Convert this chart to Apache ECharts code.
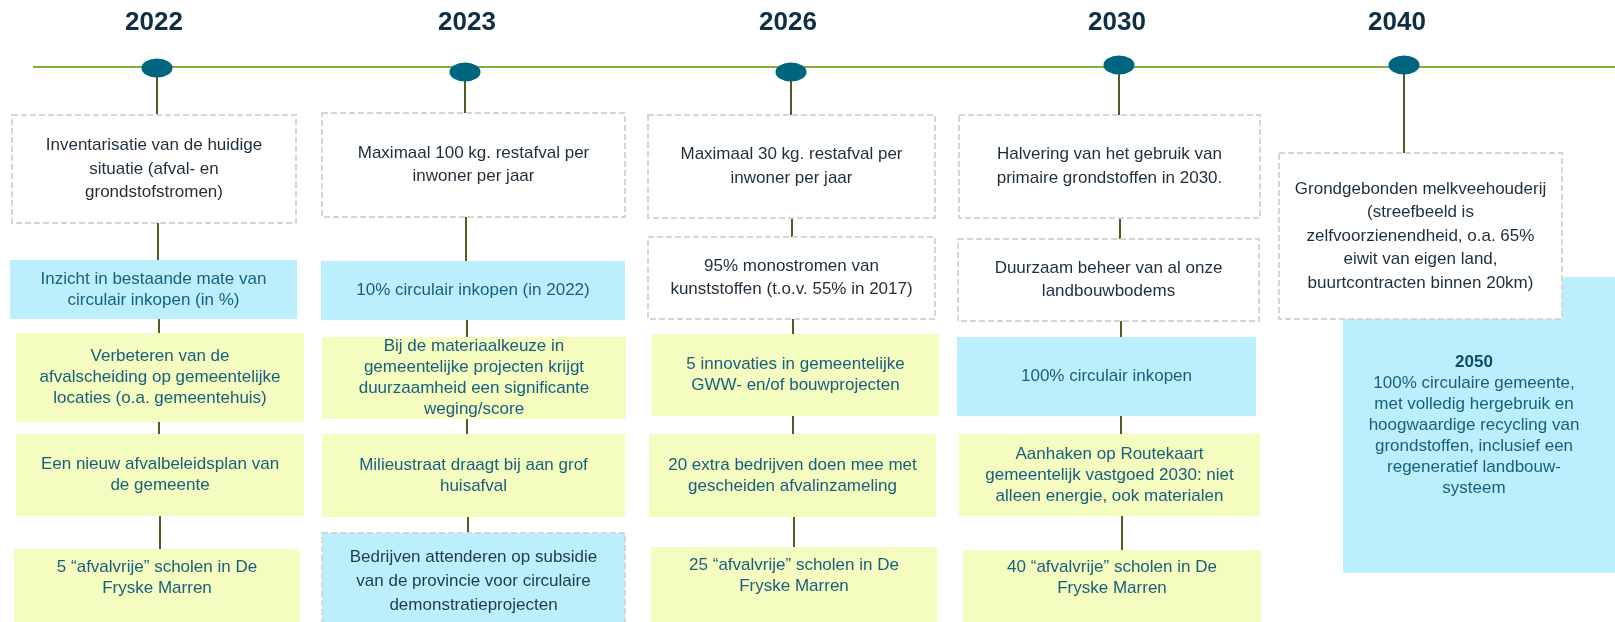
<!DOCTYPE html>
<html>
<head>
<meta charset="utf-8">
<title>Routekaart circulaire economie</title>
<script src="https://cdn.jsdelivr.net/npm/echarts@6/dist/echarts.min.js"></script>
<style>
    html, body { margin: 0; padding: 0; background: #fff; }
    #main { width: 1615px; height: 622px; }
</style>
</head>
<body>
<div id="main"></div>
<script>
// ---- data ----
var years = ['2022', '2023', '2026', '2030', '2040'];

var texts2022 = [
    'Inventarisatie van de huidige\nsituatie (afval- en\ngrondstofstromen)',
    'Inzicht in bestaande mate van\ncirculair inkopen (in %)',
    'Verbeteren van de\nafvalscheiding op gemeentelijke\nlocaties (o.a. gemeentehuis)',
    'Een nieuw afvalbeleidsplan van\nde gemeente',
    '5 \u201cafvalvrije\u201d scholen in De\nFryske Marren'
];
var kinds2022 = ['doel', 'inkoop', 'actie', 'actie', 'actie'];

var texts2023 = [
    'Maximaal 100 kg. restafval per\ninwoner per jaar',
    '10% circulair inkopen (in 2022)',
    'Bij de materiaalkeuze in\ngemeentelijke projecten krijgt\nduurzaamheid een significante\nweging/score',
    'Milieustraat draagt bij aan grof\nhuisafval',
    'Bedrijven attenderen op subsidie\nvan de provincie voor circulaire\ndemonstratieprojecten'
];
var kinds2023 = ['doel', 'inkoop', 'actie', 'actie', 'subsidie'];

var texts2026 = [
    'Maximaal 30 kg. restafval per\ninwoner per jaar',
    '95% monostromen van\nkunststoffen (t.o.v. 55% in 2017)',
    '5 innovaties in gemeentelijke\nGWW- en/of bouwprojecten',
    '20 extra bedrijven doen mee met\ngescheiden afvalinzameling',
    '25 \u201cafvalvrije\u201d scholen in De\nFryske Marren'
];
var kinds2026 = ['doel', 'doel', 'actie', 'actie', 'actie'];

var texts2030 = [
    'Halvering van het gebruik van\nprimaire grondstoffen in 2030.',
    'Duurzaam beheer van al onze\nlandbouwbodems',
    '100% circulair inkopen',
    'Aanhaken op Routekaart\ngemeentelijk vastgoed 2030: niet\nalleen energie, ook materialen',
    '40 \u201cafvalvrije\u201d scholen in De\nFryske Marren'
];
var kinds2030 = ['doel', 'doel', 'inkoop', 'actie', 'actie'];

var texts2040 = [
    'Grondgebonden melkveehouderij\n(streefbeeld is\nzelfvoorzienendheid, o.a. 65%\neiwit van eigen land,\nbuurtcontracten binnen 20km)'
];
var kinds2040 = ['doel'];

var vision2050 = '2050';
var visionText = '100% circulaire gemeente,\nmet volledig hergebruik en\nhoogwaardige recycling van\ngrondstoffen, inclusief een\nregeneratief landbouw-\nsysteem';

// ---- layout (pixel space of the hidden axes) ----
var yearLabelX = [154, 467, 788, 1117, 1397];
var yearLabelY = 23;
var dotX = [157, 465, 791, 1119, 1404];
var dotY = [68, 72, 72, 65, 65];
var lineY = 67;

// [x0, x1, y0, y1, textX, textY]
var pos2022 = [[12, 296, 115, 223], [10, 297, 260, 319], [16, 304, 333, 422], [16, 304, 434, 516], [14, 300, 549, 640, null, 578]];
var pos2023 = [[322, 625, 113, 217], [321, 625, 261, 320], [322, 626, 337, 419], [322, 625, 434, 517], [322, 625, 533, 640, null, 581]];
var pos2026 = [[648, 935, 115, 218], [648, 935, 237, 319], [652, 939, 334, 416], [649, 936, 434, 517], [651, 937, 547, 640, null, 576]];
var pos2030 = [[959, 1260, 115, 218], [958, 1259, 239, 321], [957, 1256, 337, 416], [959, 1260, 434, 516], [963, 1261, 550, 640, null, 578]];
var pos2040 = [[1279, 1562, 153, 319]];
var pos2050 = [1343, 1640, 277, 573, 1474, null];

var FONT = '"Liberation Sans", Arial, Helvetica, sans-serif';

var boxStyle = {
    doel: { fill: '#ffffff', stroke: '#d6d6d6', dash: [6, 3], color: '#1f2e3b', lh: 23.5 },
    inkoop: { fill: '#bbeffd', stroke: null, color: '#195f7d', lh: 21 },
    actie: { fill: '#f4fcc0', stroke: null, color: '#195f7d', lh: 21 },
    subsidie: { fill: '#bbeffd', stroke: '#d6d6d6', dash: [6, 3], color: '#1d3b50', lh: 24 },
    visie: { fill: '#bbeffd', stroke: null, color: '#195f7d', lh: 21 }
};

var chartDom = document.getElementById('main');
var myChart = echarts.init(chartDom);

var columns = [
    { texts: texts2022, kinds: kinds2022, pos: pos2022 },
    { texts: texts2023, kinds: kinds2023, pos: pos2023 },
    { texts: texts2026, kinds: kinds2026, pos: pos2026 },
    { texts: texts2030, kinds: kinds2030, pos: pos2030 },
    { texts: texts2040, kinds: kinds2040, pos: pos2040 }
];

var boxes = [];
var connectors = [];

function buildItems() {
    // 2050 box first so the 2040 box is drawn on top of it
    boxes.push({ kind: 'visie', text: '{b|' + vision2050 + '}\n' + visionText, p: pos2050 });

    columns.forEach(function (col, c) {
        var prevY = dotY[c];
        col.texts.forEach(function (t, i) {
            var p = col.pos[i];
            boxes.push({ kind: col.kinds[i], text: t, p: p });
            connectors.push([Math.round(dotX[c] + i * 0.75), prevY, p[2]]);
            prevY = p[3];
        });
    });
}

function renderBox(params, api) {
    var b = boxes[params.dataIndex];
    var st = boxStyle[b.kind];
    var p0 = api.coord([api.value(0), api.value(2)]);
    var p1 = api.coord([api.value(1), api.value(3)]);
    var tx = b.p[4] != null ? api.coord([b.p[4], 0])[0] : (p0[0] + p1[0]) / 2;
    var ty = b.p[5] != null ? api.coord([0, b.p[5]])[1] : (p0[1] + p1[1]) / 2;
    return {
        type: 'group',
        children: [{
            type: 'rect',
            shape: { x: p0[0], y: p0[1], width: p1[0] - p0[0], height: p1[1] - p0[1] },
            style: {
                fill: st.fill,
                stroke: st.stroke || null,
                lineWidth: st.stroke ? 2 : 0,
                lineDash: st.dash || null
            }
        }, {
            type: 'text',
            x: tx,
            y: ty,
            style: {
                text: b.text,
                fill: st.color,
                fontSize: 17,
                fontFamily: FONT,
                lineHeight: st.lh,
                align: 'center',
                verticalAlign: 'middle',
                rich: {
                    b: { fontSize: 17, fontWeight: 'bold', fontFamily: FONT, fill: '#0f4c69', lineHeight: 21 }
                }
            }
        }]
    };
}

function renderConnector(params, api) {
    var a = api.coord([api.value(0), api.value(1)]);
    var b = api.coord([api.value(0), api.value(2)]);
    return {
        type: 'line',
        shape: { x1: a[0], y1: a[1], x2: b[0], y2: b[1] },
        style: { stroke: '#4f5e1e', lineWidth: 2 }
    };
}

function renderYear(params, api) {
    var p = api.coord([api.value(0), api.value(1)]);
    return {
        type: 'text',
        x: p[0],
        y: p[1],
        style: {
            text: years[params.dataIndex],
            fill: '#0f2f45',
            fontSize: 26,
            fontWeight: 'bold',
            fontFamily: FONT,
            align: 'center',
            verticalAlign: 'middle'
        }
    };
}

function initialChart() {
    buildItems();

    var option = {
        animation: false,
        grid: { left: 0, right: 0, top: 0, bottom: 0 },
        xAxis: { type: 'value', min: 0, max: 1615, show: false },
        yAxis: { type: 'value', min: 0, max: 622, inverse: true, show: false },
        series: [
            {
                name: 'tijdlijn',
                type: 'line',
                z: 1,
                symbol: 'none',
                silent: true,
                lineStyle: { color: '#86ad3c', width: 2 },
                data: [[33, lineY], [1615, lineY]]
            },
            {
                name: 'verbindingen',
                type: 'custom',
                z: 2,
                silent: true,
                renderItem: renderConnector,
                data: connectors
            },
            {
                name: 'doelen',
                type: 'custom',
                z: 3,
                silent: true,
                renderItem: renderBox,
                data: boxes.map(function (b) { return [b.p[0], b.p[1], b.p[2], b.p[3]]; })
            },
            {
                name: 'mijlpalen',
                type: 'scatter',
                z: 4,
                silent: true,
                symbol: 'circle',
                symbolSize: [31, 19],
                itemStyle: { color: '#00657f', opacity: 1 },
                data: dotX.map(function (x, i) { return [x, dotY[i]]; })
            },
            {
                name: 'jaren',
                type: 'custom',
                z: 4,
                silent: true,
                renderItem: renderYear,
                data: yearLabelX.map(function (x) { return [x, yearLabelY]; })
            }
        ]
    };

    myChart.setOption(option);
}

initialChart();
</script>
</body>
</html>
